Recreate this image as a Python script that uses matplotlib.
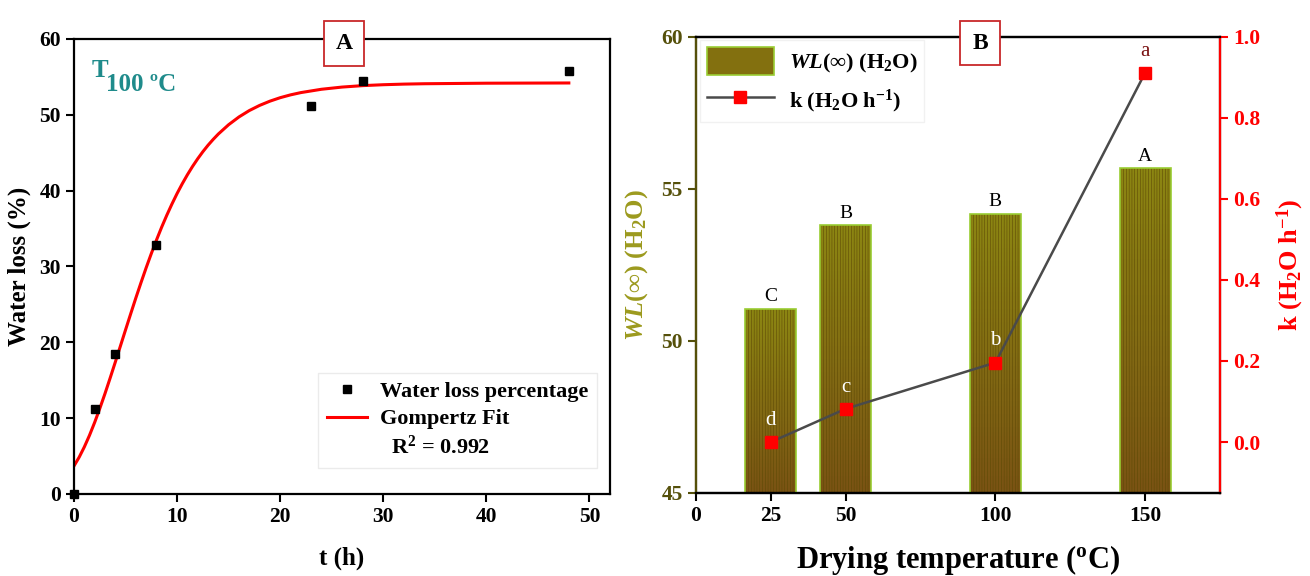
import numpy as np
import matplotlib
matplotlib.use("Agg")
import matplotlib.pyplot as plt
from matplotlib.patches import Patch
from matplotlib.lines import Line2D
from matplotlib.colors import LinearSegmentedColormap

plt.rcParams['font.family'] = ['Liberation Serif', 'DejaVu Serif']
plt.rcParams['font.weight'] = 'bold'
plt.rcParams['axes.labelweight'] = 'bold'
plt.rcParams['mathtext.fontset'] = 'custom'
plt.rcParams['mathtext.rm'] = 'Liberation Serif:bold'
plt.rcParams['mathtext.bf'] = 'Liberation Serif:bold'
plt.rcParams['mathtext.it'] = 'Liberation Serif:italic:bold'
plt.rcParams['hatch.linewidth'] = 0.4

# ---- panel A: water loss at 100 C ----
t_obs = [0, 2, 4, 8, 23, 28, 48]
wl_obs = [0.0, 11.2, 18.4, 32.8, 51.1, 54.4, 55.75]

# Gompertz fit curve
t_fit = [0, 0.5, 1, 1.5, 2, 2.5, 3, 3.5, 4, 4.5, 5, 5.5, 6, 6.5, 7, 7.5, 8,
         8.5, 9, 9.5, 10, 10.5, 11, 11.5, 12, 12.5, 13, 13.5, 14, 15, 16, 17,
         18, 19, 20, 21, 22, 24, 26, 28, 30, 32, 34, 40, 48]
wl_fit = [3.7, 4.85, 6.2, 7.73, 9.43, 11.27, 13.22, 15.27, 17.37, 19.51,
          21.65, 23.77, 25.86, 27.88, 29.84, 31.71, 33.49, 35.18, 36.76,
          38.24, 39.63, 40.91, 42.1, 43.2, 44.21, 45.14, 45.99, 46.76, 47.47,
          48.7, 49.72, 50.56, 51.24, 51.8, 52.26, 52.63, 52.93, 53.37, 53.66,
          53.85, 53.97, 54.05, 54.1, 54.17, 54.2]

# ---- panel B: drying temperature ----
temps = [25, 50, 100, 150]
wl_inf = [51.05, 53.79, 54.18, 55.67]
k_rate = [0.0, 0.082, 0.196, 0.911]
wl_letters = ['C', 'B', 'B', 'A']
k_letters = ['d', 'c', 'b', 'a']

OLIVE_TXT = '#55500a'
OLIVE_LBL = '#9c9a1e'
TEAL = '#1f8b8b'

fig = plt.figure(figsize=(13.1, 5.76), dpi=100)
axA = fig.add_axes([0.0565, 0.1424, 0.4092, 0.7899])
axB = fig.add_axes([0.5313, 0.1446, 0.4000, 0.7917])

# ===== A =====
axA.plot(t_fit, wl_fit, color='red', lw=2.2, zorder=2)
axA.plot(t_obs, wl_obs, 's', color='black', ms=6, ls='none', zorder=3, clip_on=False)
axA.set_xlim(0, 52)
axA.set_ylim(0, 60)
axA.set_xticks([0, 10, 20, 30, 40, 50])
axA.set_yticks([0, 10, 20, 30, 40, 50, 60])
axA.tick_params(direction='out', length=6, width=1.5, labelsize=15.5, top=False, right=False)
for s in axA.spines.values():
    s.set_linewidth(1.6)
axA.set_xlabel('t (h)', fontsize=18, labelpad=14)
axA.set_ylabel('Water loss (%)', fontsize=18, labelpad=6)

axA.text(0.033, 0.905, 'T', transform=axA.transAxes, color=TEAL, fontsize=18, va='bottom')
axA.text(0.060, 0.875, '100 ºC', transform=axA.transAxes, color=TEAL, fontsize=18, va='bottom')

leg_handles = [
    Line2D([], [], marker='s', color='black', ls='none', ms=6),
    Line2D([], [], color='red', lw=2.2),
    Line2D([], [], color='none'),
]
leg_labels = ['Water loss percentage', 'Gompertz Fit', '  R$^2$ = 0.992']
axA.legend(leg_handles, leg_labels, loc='lower left', bbox_to_anchor=(0.455, 0.057),
           borderaxespad=0, fontsize=16, frameon=True, fancybox=False,
           edgecolor='#e6e6e6', handlelength=1.8, handletextpad=0.6,
           labelspacing=0.3, borderpad=0.4)

axA.text(0.504, 0.99, 'A', transform=axA.transAxes, ha='center', va='center',
         fontsize=17, zorder=10,
         bbox=dict(boxstyle='square,pad=0.5', facecolor='white', edgecolor='#c8282a', lw=1.3))

# ===== B =====
axB.set_xlim(0, 175)
axB.set_ylim(45, 60)
bars = axB.bar(temps, wl_inf, width=17, color='none', edgecolor='#9acd32', lw=1.2, zorder=3)
axB.bar(temps, wl_inf, width=17, color='none', edgecolor='#5e4a06', lw=0, hatch='||||||', zorder=2)

cmap = LinearSegmentedColormap.from_list('olivebrown', ['#7a5314', '#8c8612'])
grad = np.linspace(0, 1, 64).reshape(-1, 1)
for b in bars:
    x0, w, top = b.get_x(), b.get_width(), b.get_height()
    im = axB.imshow(grad, extent=[x0, x0 + w, 45, top], origin='lower', aspect='auto',
                    cmap=cmap, zorder=1)
    im.set_clip_path(b)
axB.set_xlim(0, 175)
axB.set_ylim(45, 60)
axB.set_aspect('auto')

for x, v, lab in zip(temps, wl_inf, wl_letters):
    axB.text(x, v + 0.12, lab, ha='center', va='bottom', fontsize=14, fontweight='normal', zorder=5)

axB.set_xticks([0, 25, 50, 100, 150])
axB.set_yticks([45, 50, 55, 60])
axB.tick_params(axis='x', direction='out', length=6, width=1.5, labelsize=15.5)
axB.tick_params(axis='y', direction='out', length=6, width=1.5, labelsize=15.5,
                colors=OLIVE_TXT)
axB.spines['left'].set_color(OLIVE_TXT)
for s in axB.spines.values():
    s.set_linewidth(1.6)
axB.set_xlabel('Drying temperature ($\\mathregular{^o}$C)', fontsize=22, labelpad=12)
axB.set_ylabel('$\\mathit{WL}$(∞) (H$_2$O)', fontsize=19, color=OLIVE_LBL, labelpad=8)

ax2 = axB.twinx()
ax2.set_ylim(-0.125, 1.0)
ax2.plot(temps, k_rate, color='#4a4a4a', lw=1.8, marker='s', ms=9,
         mfc='red', mec='red', zorder=4)
for x, v, lab in zip(temps, k_rate, k_letters):
    col = '#7a1212' if lab == 'a' else 'white'
    ax2.text(x, v + 0.03, lab, ha='center', va='bottom', fontsize=15,
             fontweight='normal', color=col, zorder=6)
ax2.set_yticks([0.0, 0.2, 0.4, 0.6, 0.8, 1.0])
ax2.yaxis.set_major_formatter(matplotlib.ticker.FormatStrFormatter('%.1f'))
ax2.tick_params(axis='y', direction='out', length=6, width=1.5, labelsize=15.5, colors='red')
ax2.spines['right'].set_color('red')
ax2.spines['left'].set_color(OLIVE_TXT)
for s in ax2.spines.values():
    s.set_linewidth(1.6)
ax2.set_ylabel('k (H$_2$O h$^{-1}$)', fontsize=19, color='red', labelpad=10)

legB_handles = [
    Patch(facecolor='#83700f', edgecolor='#9acd32', lw=1.2),
    Line2D([], [], color='#4a4a4a', lw=1.8, marker='s', ms=9, mfc='red', mec='red'),
]
legB_labels = ['$\\mathit{WL}$(∞) (H$_2$O)', 'k (H$_2$O h$^{-1}$)']
ax2.legend(legB_handles, legB_labels, loc='upper left', bbox_to_anchor=(0.008, 0.993),
           borderaxespad=0, fontsize=16, frameon=True, fancybox=False,
           edgecolor='#eeeeee', handlelength=3.0, handleheight=1.6,
           handletextpad=0.7, labelspacing=0.5, borderpad=0.3)

ax2.text(0.542, 0.986, 'B', transform=ax2.transAxes, ha='center', va='center',
         fontsize=17, zorder=10,
         bbox=dict(boxstyle='square,pad=0.5', facecolor='white', edgecolor='#c8282a', lw=1.3))

fig.savefig('out.png', dpi=100)
